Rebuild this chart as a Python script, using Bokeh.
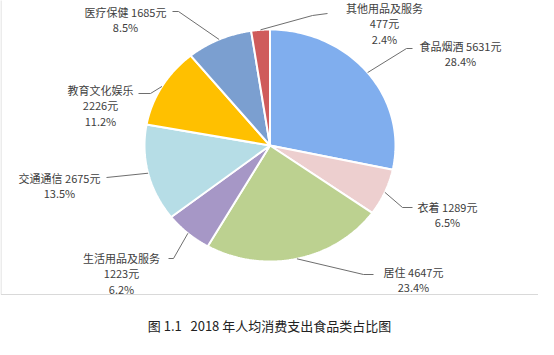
import numpy as np
from bokeh.plotting import figure
from bokeh.models import Range1d, ColumnDataSource
from bokeh.embed import file_html
from bokeh.resources import INLINE
from bokeh.core.properties import value

# ---- data ----
categories = ["食品烟酒", "衣着", "居住", "生活用品及服务", "交通通信",
              "教育文化娱乐", "医疗保健", "其他用品及服务"]
amounts = [5631, 1289, 4647, 1223, 2675, 2226, 1685, 477]
colors = ["#80AEEE", "#EDCFCF", "#BCD190", "#A697C6", "#B6DDE6",
          "#FFC000", "#7B9FD0", "#CF5B5B"]
caption = "图\u00a01.1\u00a0\u00a0\u00a02018\u00a0年人均消费支出食品类占比图"

# ---- layout (page pixel coordinates) ----
CX, CY, RX, RY = 277.5, 153.0, 125.5, 116.0
label_center = [(468, 53), (455, 214), (421, 279), (129, 265), (67, 185),
                (108, 97), (133, 19), (392, 15)]
label_form = ["{n} {v}元|{p}", "{n} {v}元|{p}", "{n} {v}元|{p}", "{n}|{v}元|{p}",
              "{n} {v}元|{p}", "{n}|{v}元|{p}", "{n} {v}元|{p}", "{n}|{v}元|{p}"]
leader_start = [[(420, 56), (414, 56)], [(420, 215), (410, 215)],
                [(381, 282), (371, 282)], [(176, 266), (181, 266)],
                [(114, 185)], [(146, 101), (158, 101)],
                [(180, 19), (186, 19)], [(335, 21), (320, 23)]]
LINE_GAP = 15.5

total = float(sum(amounts))
fracs = np.array(amounts) / total
cum = np.concatenate([[0.0], np.cumsum(fracs)])

p = figure(width=538, height=339, x_range=Range1d(8, 546), y_range=Range1d(347, 8),
           output_backend="svg", toolbar_location=None, min_border=0)
p.axis.visible = False
p.grid.visible = False
p.outline_line_color = None
p.background_fill_color = "white"

# chart frame
p.multi_line(xs=[[8.5, 8.5, 547, 547]], ys=[[0, 302, 302, 0]],
             line_color="#D9D9D9", line_width=1)

# pie slices
xs, ys = [], []
for i in range(len(amounts)):
    t = np.linspace(cum[i], cum[i + 1], 80) * 2 * np.pi
    xs.append([CX] + list(CX + RX * np.sin(t)) + [CX])
    ys.append([CY] + list(CY - RY * np.cos(t)) + [CY])
p.patches(xs=xs, ys=ys, fill_color=colors, line_color="white", line_width=2)

# leader lines
lx, ly = [], []
for i in range(len(amounts)):
    m = (cum[i] + cum[i + 1]) / 2 * 2 * np.pi
    ax, ay = CX + RX * np.sin(m), CY - RY * np.cos(m)
    pts = leader_start[i] + [(ax, ay)]
    lx.append([q[0] for q in pts])
    ly.append([q[1] for q in pts])
p.multi_line(xs=lx, ys=ly, line_color="#6E6E6E", line_width=1)

# labels
tx, ty, tt = [], [], []
for i, n in enumerate(categories):
    s = label_form[i].format(n=n, v=amounts[i], p=f"{fracs[i]*100:.1f}%")
    for k, line in enumerate(s.split("|")):
        tx.append(label_center[i][0])
        ty.append(label_center[i][1] + k * LINE_GAP)
        tt.append(line)
p.text(x=tx, y=ty, text=tt, text_align="center", text_baseline="middle",
       text_font=value("Noto Sans CJK SC"), text_font_size="11px", text_color="#404040")

# caption
p.text(x=[277], y=[333], text=[caption], text_align="center", text_baseline="middle",
       text_font=value("Noto Sans CJK SC"), text_font_size="13px", text_color="#222222")

open("out.html", "w").write(file_html(p, INLINE))
